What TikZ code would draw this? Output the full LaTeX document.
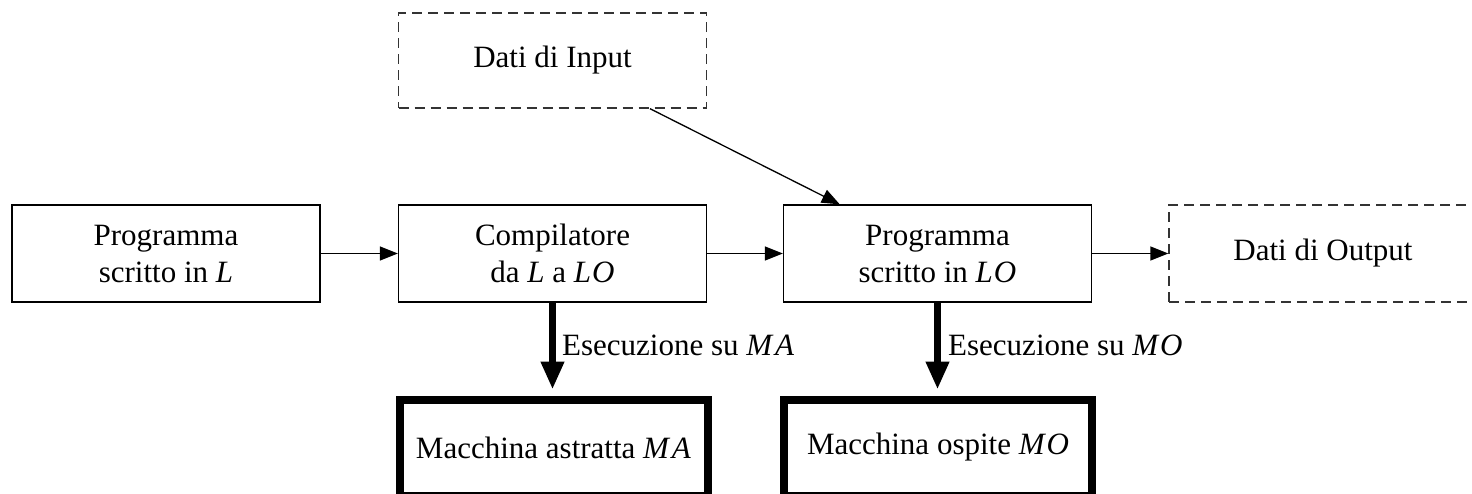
\documentclass[tikz,border=0pt]{standalone}
\usepackage{fontspec}
\setmainfont{Liberation Serif}
\usetikzlibrary{arrows.meta,calc}

\begin{document}
\begin{tikzpicture}[x=1pt,y=-1pt,
  font=\fontsize{31}{37}\selectfont,
  box/.style={draw, line width=1.3pt, rectangle, align=center,
    minimum width=308pt, minimum height=97pt, inner sep=0pt},
  dbox/.style={box, draw=black!80, dash pattern=on 10pt off 6pt},
  hbox/.style={box, line width=8pt, minimum height=96pt},
  thin arrow/.style={line width=1.3pt, -{Triangle[length=18pt,width=14pt]}},
  thick arrow/.style={line width=7pt, -{Triangle[length=28pt,width=22pt]}, shorten >=6pt},
  lbl/.style={anchor=base west, inner sep=0pt}
]
\clip (0,0) rectangle (1472,493);
\useasboundingbox (0,0) rectangle (1472,493);

% upper row of blocks
\node[box]  (prog)  at (166,253.5)   {Programma\\scritto in \textit{L}};
\node[box]  (comp)  at (552.5,253.5) {Compilatore\\da \textit{L} a \textit{L\kern1pt O}};
\node[box]  (proglo) at (937.5,253.5) {Programma\\scritto in \textit{L\kern1pt O}};
\node[dbox] (out)   at (1323,253.5)  {Dati di Output};
\node[dbox, minimum height=95pt] (inp) at (552.5,60.5) {Dati di Input};

% machines
\node[hbox] (ma) at (553.5,447.5) {Macchina astratta \textit{M\kern3pt A}};
\node[hbox] (mo) at (938,447.5)   {Macchina ospite \textit{M\kern2pt O}};

% data flow
\draw[thin arrow] (prog) -- (comp);
\draw[thin arrow] (comp) -- (proglo);
\draw[thin arrow] (proglo) -- (out);
\coordinate (inpfoot) at ($(inp.south west)!0.815!(inp.south east)$);
\coordinate (lotop)   at ($(proglo.north west)!0.184!(proglo.north east)$);
\draw[thin arrow] (inpfoot) -- (lotop);

% execution
\draw[thick arrow] (comp.south) -- (comp.south |- ma.north);
\draw[thick arrow] (proglo.south) -- (proglo.south |- mo.north);
\node[lbl] (exma) at (562,355) {Esecuzione su \textit{M\kern3pt A}};
\node[lbl] (exmo) at (948,355) {Esecuzione su \textit{M\kern2pt O}};
\end{tikzpicture}
\end{document}
